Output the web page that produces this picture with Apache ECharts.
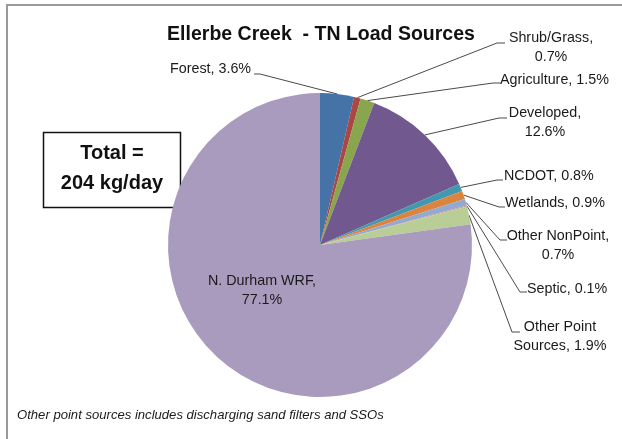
<!DOCTYPE html>
<html>
<head>
<meta charset="utf-8">
<script src="https://cdn.jsdelivr.net/npm/echarts@6/dist/echarts.min.js"></script>
<style>
  html, body { margin: 0; padding: 0; background: #fff; }
  #chart { width: 622px; height: 439px; }
</style>
</head>
<body>
<div id="chart"></div>
<script>
  // data (percent of total TN load)
  const sources = [
    "Forest", "Shrub/Grass", "Agriculture", "Developed", "NCDOT",
    "Wetlands", "Other NonPoint", "Septic", "Other Point Sources", "N. Durham WRF"
  ];
  const shares = [3.6, 0.7, 1.5, 12.6, 0.8, 0.9, 0.7, 0.1, 1.9, 77.1];
  const colors = [
    "#4572a7", "#aa4643", "#89a54e", "#71588f", "#4198af",
    "#db843d", "#93a9cf", "#d19392", "#b9cd96", "#a99bbd"
  ];
  const totalText = ["Total =", "204 kg/day"];

  // how each label is broken onto lines, as in the reference
  function labelText(name, value) {
    const pct = value.toFixed(1) + "%";
    if (name === "Other Point Sources") return "Other Point\nSources, " + pct;
    if (["Shrub/Grass", "Developed", "Other NonPoint", "N. Durham WRF"].includes(name)) {
      return name + ",\n" + pct;
    }
    return name + ", " + pct;
  }

  // label placement: x, y, text align, and the elbow of the leader line
  const labelSpots = [
    { x: 170, y: 69, align: "left", elbow: [[260, 74], [254, 74]] },
    { x: 551, y: 48, align: "center", elbow: [[497, 43], [505, 43]] },
    { x: 500, y: 80, align: "left", elbow: [[493, 83], [500, 83]] },
    { x: 545, y: 123, align: "center", elbow: [[499, 118], [507, 118]] },
    { x: 504, y: 176, align: "left", elbow: [[497, 180], [503, 180]] },
    { x: 505, y: 203, align: "left", elbow: [[499, 207], [505, 207]] },
    { x: 558, y: 246, align: "center", elbow: [[500, 240], [507, 240]] },
    { x: 527, y: 289, align: "left", elbow: [[520, 292], [527, 292]] },
    { x: 560, y: 337, align: "center", elbow: [[512, 332], [520, 332]] },
    { x: 262, y: 291, align: "center", elbow: null }
  ];

  const chart = echarts.init(document.getElementById("chart"), null, { renderer: "canvas" });

  const pieData = sources.map((name, i) => {
    const item = { name: name, value: shares[i], itemStyle: { color: colors[i] } };
    if (name === "N. Durham WRF") {
      item.label = { position: "inside" };
      item.labelLine = { show: false };
    }
    return item;
  });

  const option = {
    animation: false,
    backgroundColor: "#fff",
    title: {
      text: "Ellerbe Creek  - TN Load Sources",
      left: 316,
      top: 20,
      textAlign: "center",
      textStyle: {
        fontFamily: "Liberation Sans, Arial, sans-serif",
        fontSize: 19.5,
        fontWeight: "bold",
        color: "#111"
      }
    },
    graphic: [
      {
        type: "polyline",
        shape: { points: [[7, 439], [7, 5], [622, 5]] },
        style: { stroke: "#9a9a9a", lineWidth: 2, fill: null },
        silent: true
      },
      {
        type: "rect",
        shape: { x: 43.5, y: 132.5, width: 137, height: 75 },
        style: { stroke: "#111", lineWidth: 1.5, fill: "#fff" },
        silent: true
      },
      {
        type: "text",
        x: 112, y: 153,
        style: {
          text: totalText[0], align: "center", verticalAlign: "middle",
          fontFamily: "Liberation Sans, Arial, sans-serif", fontSize: 20,
          fontWeight: "bold", fill: "#111"
        }
      },
      {
        type: "text",
        x: 112, y: 183,
        style: {
          text: totalText[1], align: "center", verticalAlign: "middle",
          fontFamily: "Liberation Sans, Arial, sans-serif", fontSize: 20,
          fontWeight: "bold", fill: "#111"
        }
      },
      {
        type: "text",
        x: 17, y: 415,
        style: {
          text: "Other point sources includes discharging sand filters and SSOs",
          verticalAlign: "middle",
          fontFamily: "Liberation Sans, Arial, sans-serif", fontSize: 13.1,
          fontStyle: "italic", fill: "#1a1a1a"
        }
      }
    ],
    series: [
      {
        type: "pie",
        center: [320, 245],
        radius: 152,
        startAngle: 90,
        clockwise: true,
        avoidLabelOverlap: false,
        minAngle: 0,
        data: pieData,
        label: {
          show: true,
          position: "outside",
          formatter: (p) => labelText(p.name, p.value),
          fontFamily: "Liberation Sans, Arial, sans-serif",
          fontSize: 14.3,
          lineHeight: 19,
          color: "#1a1a1a"
        },
        labelLine: {
          show: true,
          length: 10,
          length2: 10,
          lineStyle: { color: "#4a4a4a", width: 1 }
        },
        emphasis: { disabled: true },
        labelLayout: (params) => {
          const spot = labelSpots[params.dataIndex];
          const out = { x: spot.x, y: spot.y, align: spot.align, verticalAlign: "middle" };
          if (spot.elbow && params.labelLinePoints) {
            const start = params.labelLinePoints[0];
            out.labelLinePoints = [[start[0], start[1]], spot.elbow[0], spot.elbow[1]];
          }
          return out;
        }
      }
    ]
  };

  chart.setOption(option);
</script>
</body>
</html>
